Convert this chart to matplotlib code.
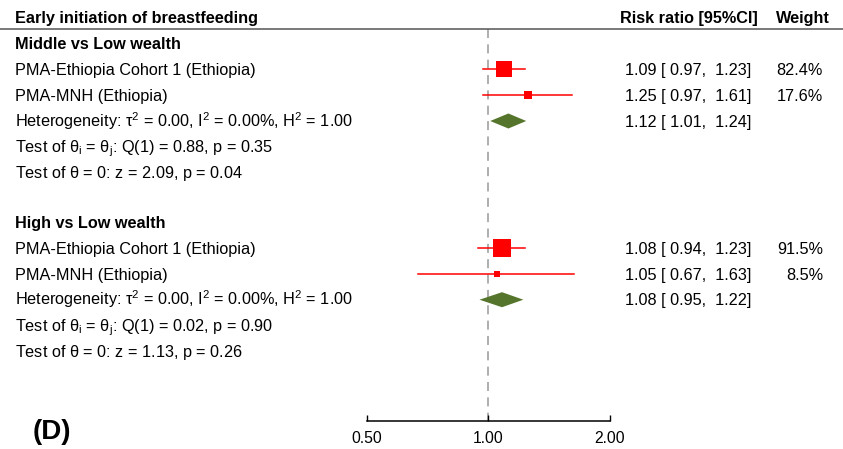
import matplotlib
matplotlib.use("Agg")
import matplotlib.pyplot as plt
import numpy as np

plt.rcParams['font.family'] = ['Liberation Sans', 'DejaVu Sans']
plt.rcParams['mathtext.fontset'] = 'custom'
plt.rcParams['mathtext.rm'] = 'Liberation Sans'
plt.rcParams['mathtext.default'] = 'regular'

# data
title = "Early initiation of breastfeeding"
groups = ["Middle vs Low wealth", "High vs Low wealth"]
studies = ["PMA-Ethiopia Cohort 1 (Ethiopia)", "PMA-MNH (Ethiopia)"]
rr = [[1.09, 1.25], [1.08, 1.05]]
ci_lo = [[0.97, 0.97], [0.94, 0.67]]
ci_hi = [[1.23, 1.61], [1.23, 1.63]]
weights = [[82.4, 17.6], [91.5, 8.5]]
pooled_rr = [1.12, 1.08]
pooled_lo = [1.01, 0.95]
pooled_hi = [1.24, 1.22]
tau2 = [0.00, 0.00]
i2 = [0.00, 0.00]
h2 = [1.00, 1.00]
q_stat = [0.88, 0.02]
q_p = [0.35, 0.90]
z_stat = [2.09, 1.13]
z_p = [0.04, 0.26]
xticks = [0.5, 1.0, 2.0]

W, H = 843, 449
fig = plt.figure(figsize=(W / 100, H / 100), dpi=100)
ax = fig.add_axes([0, 0, 1, 1])

# layout: pixel -> data mapping
x1_px, oct_px = 488.5, 121.5
ax.set_xscale('log', base=2)
ax.set_xlim(2 ** ((0 - x1_px) / oct_px), 2 ** ((W - x1_px) / oct_px))
row0_px, row_px = 43.3, 25.9
ax.set_ylim((H - row0_px) / row_px, (0 - row0_px) / row_px)

tx = ax.get_yaxis_transform()   # x in axes fraction, y in rows
fs = 11.7
bl = 0.22   # baseline offset below row centre
red = '#FF0000'
green = '#56752C'

def fx(px):
    return px / W

def put(px, y, s, **kw):
    ax.text(fx(px), y + bl, s, transform=tx, fontsize=fs, va='baseline', **kw)

# header
put(15, -1.0, title, fontweight='bold')
put(758, -1.0, "Risk ratio [95%CI]", fontweight='bold', ha='right')
put(830, -1.0, "Weight", fontweight='bold', ha='right')
ax.plot([0, 1], [-0.56, -0.56], transform=tx, color='#555555', lw=1.1, clip_on=False)

axis_row = (421 - row0_px) / row_px
ax.plot([1, 1], [-0.56, axis_row], color='#A8A8A8', lw=1.3, ls=(0, (5, 3.5)), zorder=1)

group_start = [0, 6.9]
for g in range(len(groups)):
    y0 = group_start[g]
    put(15, y0, groups[g], fontweight='bold')
    for i in range(len(studies)):
        y = y0 + 1 + i
        put(15, y, studies[i])
        ax.plot([ci_lo[g][i], ci_hi[g][i]], [y, y], color=red, lw=1.1, zorder=2)
        ax.plot(rr[g][i], y, marker='s', color=red, mec=red, mew=0,
                markersize=1.3 * np.sqrt(weights[g][i]), zorder=3)
        put(751, y, "%.2f [ %.2f,  %.2f]" % (rr[g][i], ci_lo[g][i], ci_hi[g][i]), ha='right')
        put(823, y, "%.1f%%" % weights[g][i], ha='right')
    y = y0 + 3
    hd = 0.29
    ax.fill([pooled_lo[g], pooled_rr[g], pooled_hi[g], pooled_rr[g]],
            [y, y - hd, y, y + hd], color=green, lw=0, zorder=3)
    put(751, y, "%.2f [ %.2f,  %.2f]" % (pooled_rr[g], pooled_lo[g], pooled_hi[g]), ha='right')
    put(15, y, r"Heterogeneity: $\tau^2$ = %.2f, $I^2$ = %.2f%%, $H^2$ = %.2f"
        % (tau2[g], i2[g], h2[g]))
    put(15, y + 1, r"Test of $\theta_i$ = $\theta_j$: Q(1) = %.2f, p = %.2f" % (q_stat[g], q_p[g]))
    put(15, y + 2, r"Test of $\theta$ = 0: z = %.2f, p = %.2f" % (z_stat[g], z_p[g]))

# x axis
for s in ['top', 'left', 'right']:
    ax.spines[s].set_visible(False)
ax.spines['bottom'].set_position(('data', axis_row))
ax.spines['bottom'].set_bounds(xticks[0], xticks[-1])
ax.spines['bottom'].set_linewidth(1.1)
ax.set_xticks(xticks)
ax.set_xticklabels(["%.2f" % t for t in xticks])
ax.xaxis.set_minor_locator(matplotlib.ticker.NullLocator())
ax.tick_params(axis='x', direction='in', length=4, width=1, labelsize=11.3, pad=7)
ax.set_yticks([])

ax.text(fx(33), (432 - row0_px) / row_px, "(D)", transform=tx, fontsize=20,
        fontweight='bold', va='center')

fig.savefig("out.png", dpi=100)
